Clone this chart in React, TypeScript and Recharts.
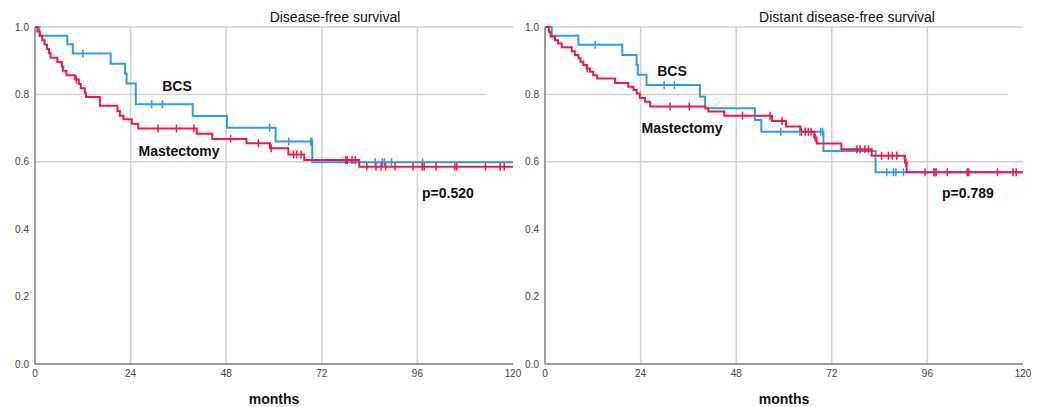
import React from 'react';
import { ComposedChart, Line, Scatter, XAxis, YAxis, CartesianGrid, ReferenceLine } from 'recharts';

// ---------- data ----------
const xTicks = [0, 24, 48, 72, 96, 120];
const yTicks = [0, 0.2, 0.4, 0.6, 0.8, 1.0];

// Left panel: Disease-free survival
const dfsBcsTimes = [0, 1.1, 8.1, 9.5, 19, 22.6, 23, 25.3, 39.6, 48.2, 60.4, 69.6, 120];
const dfsBcsSurv = [1, 0.974, 0.949, 0.921, 0.891, 0.862, 0.832, 0.771, 0.736, 0.701, 0.660, 0.599, 0.599];
const dfsBcsCensor = [12, 29.3, 32, 58.9, 63.7, 69.2, 69.5, 85.4, 87.2, 87.7, 89.5, 97.3];

const dfsMastTimes = [0, 0.6, 1.2, 1.8, 2.4, 3.0, 3.5, 3.9, 5.6, 6.7, 7.0, 7.9, 10.0, 11.0, 11.5, 12.5, 12.8, 16.3, 20.7, 21.3, 22.2, 24.3, 25.9, 40.6, 44.5, 53.1, 59.0, 63.6, 67.6, 81.4, 120];
const dfsMastSurv = [1, 0.987, 0.974, 0.961, 0.948, 0.935, 0.922, 0.909, 0.896, 0.883, 0.870, 0.857, 0.844, 0.831, 0.818, 0.805, 0.792, 0.766, 0.751, 0.737, 0.726, 0.713, 0.699, 0.683, 0.668, 0.655, 0.640, 0.622, 0.605, 0.585, 0.585];
const dfsMastCensor = [10.4, 30.9, 35.5, 39.9, 49.1, 56.1, 59.3, 64.9, 65.7, 66.8, 78.0, 78.4, 79.6, 80.4, 83.3, 85.6, 86.9, 88, 90.4, 94.9, 97.2, 97.7, 100.7, 105.4, 105.9, 113.1, 116.8, 117.8];

// Right panel: Distant disease-free survival
const ddfsBcsTimes = [0, 1.7, 8.4, 19.4, 23, 23.3, 25.5, 38.9, 40.2, 52.7, 54.3, 69.9, 83, 120];
const ddfsBcsSurv = [1, 0.974, 0.947, 0.917, 0.887, 0.858, 0.828, 0.793, 0.759, 0.724, 0.689, 0.632, 0.569, 0.569];
const ddfsBcsCensor = [12.6, 29.9, 32.5, 59.2, 64, 69.2, 69.7, 85.8, 87.5, 88.1, 90, 97.6, 98.2];

const ddfsMastTimes = [0, 1.0, 1.4, 2.5, 3.3, 4.2, 6.7, 7.5, 8.4, 8.9, 9.6, 10.5, 11.3, 12.1, 13.1, 17.6, 20.9, 22.2, 23.0, 23.8, 25.1, 26.4, 40.3, 41.0, 45.0, 57.0, 60.5, 64.1, 67.6, 68.2, 74.4, 82.0, 90.4, 90.8, 120];
const ddfsMastSurv = [1, 0.986, 0.972, 0.961, 0.951, 0.940, 0.928, 0.917, 0.907, 0.897, 0.887, 0.877, 0.867, 0.857, 0.847, 0.834, 0.823, 0.813, 0.803, 0.789, 0.778, 0.764, 0.759, 0.749, 0.737, 0.721, 0.705, 0.689, 0.672, 0.654, 0.637, 0.618, 0.597, 0.569, 0.569];
const ddfsMastCensor = [10.6, 31.4, 36.2, 49.6, 56.5, 59.5, 64.4, 65.3, 66.1, 66.8, 67.8, 78.3, 79.1, 80.3, 81.2, 84.5, 86.2, 87.2, 88.3, 90.6, 95.4, 97.7, 98.2, 101, 106, 106.4, 113.6, 117.5, 118.3];

// ---------- helpers ----------
const BLUE = '#2b9cf0';
const RED = '#f5174a';
const GRID = '#d2d2d2';
const AXIS = '#7a7a7a';
const FONT = '"Liberation Sans", Arial, sans-serif';

const toSteps = (times: number[], surv: number[]) => times.map((t, i) => ({ t, s: surv[i] }));
const survAt = (times: number[], surv: number[], t: number) => {
  let s = surv[0];
  for (let i = 0; i < times.length; i++) if (times[i] <= t) s = surv[i];
  return s;
};
const toCensor = (times: number[], surv: number[], cens: number[]) => cens.map((t) => ({ t, s: survAt(times, surv, t) }));

const makeTick = (color: string) => (props: any) => {
  const { cx, cy } = props;
  if (cx == null || cy == null) return <g />;
  return <line x1={cx} x2={cx} y1={cy - 4} y2={cy + 4} stroke={color} strokeWidth={1.5} />;
};

type PanelProps = {
  width: number;
  title: string;
  pText: string;
  bcsTimes: number[]; bcsSurv: number[]; bcsCensor: number[];
  mastTimes: number[]; mastSurv: number[]; mastCensor: number[];
  gridEnd08: number;
  titleX: number;
  bcsX: number; bcsY: number; mastX: number; mastY: number; pX: number;
};

function Panel(p: PanelProps) {
  return (
    <ComposedChart width={p.width} height={407} margin={{ top: 27, right: p.width - 513, bottom: 0, left: 0 }}>
      <CartesianGrid stroke={GRID} strokeWidth={1.5} horizontalValues={[0.6, 1.0]} verticalValues={[24, 48, 72, 96]} />
      <ReferenceLine segment={[{ x: 0, y: 0.8 }, { x: p.gridEnd08, y: 0.8 }]} stroke={GRID} strokeWidth={1.5} />
      <XAxis type="number" dataKey="t" domain={[0, 120]} ticks={xTicks} allowDataOverflow height={43}
        tickSize={0} tickMargin={6} axisLine={{ stroke: AXIS, strokeWidth: 1.5 }}
        tick={{ fontSize: 10, fill: '#444', fontFamily: FONT }}
        label={{ value: 'months', position: 'insideBottom', offset: 3, style: { fontSize: 14, fontWeight: 'bold', fill: '#111', fontFamily: FONT } }} />
      <YAxis type="number" dataKey="s" domain={[0, 1]} ticks={yTicks} width={35} tickSize={0} tickMargin={6}
        tickFormatter={(v: number) => v.toFixed(1)} axisLine={{ stroke: AXIS, strokeWidth: 1.5 }}
        tick={{ fontSize: 10, fill: '#444', fontFamily: FONT }} />
      <Line data={toSteps(p.bcsTimes, p.bcsSurv)} dataKey="s" type="stepAfter" stroke={BLUE} strokeWidth={2} dot={false} isAnimationActive={false} />
      <Line data={toSteps(p.mastTimes, p.mastSurv)} dataKey="s" type="stepAfter" stroke={RED} strokeWidth={2} dot={false} isAnimationActive={false} />
      <Scatter data={toCensor(p.bcsTimes, p.bcsSurv, p.bcsCensor)} dataKey="s" shape={makeTick(BLUE)} isAnimationActive={false} />
      <Scatter data={toCensor(p.mastTimes, p.mastSurv, p.mastCensor)} dataKey="s" shape={makeTick(RED)} isAnimationActive={false} />
      <text x={p.titleX} y={22} textAnchor="middle" fontSize={14} fill="#111" fontFamily={FONT}>{p.title}</text>
      <text x={p.bcsX} y={p.bcsY} textAnchor="middle" fontSize={14} fontWeight="bold" fill="#111" fontFamily={FONT}>BCS</text>
      <text x={p.mastX} y={p.mastY} textAnchor="middle" fontSize={14} fontWeight="bold" fill="#111" fontFamily={FONT}>Mastectomy</text>
      <text x={p.pX} y={198} textAnchor="start" fontSize={14} fontWeight="bold" fill="#111" fontFamily={FONT}>{p.pText}</text>
    </ComposedChart>
  );
}

export default function App() {
  return (
    <div style={{ position: 'absolute', left: 0, top: 0, width: 1046, height: 407, background: '#fff' }}>
      <div style={{ position: 'absolute', left: 0, top: 0 }}>
        <Panel width={525} title="Disease-free survival" pText="p=0.520"
          bcsTimes={dfsBcsTimes} bcsSurv={dfsBcsSurv} bcsCensor={dfsBcsCensor}
          mastTimes={dfsMastTimes} mastSurv={dfsMastSurv} mastCensor={dfsMastCensor}
          gridEnd08={113.2} titleX={335} bcsX={177} bcsY={91} mastX={179} mastY={156} pX={422} />
      </div>
      <div style={{ position: 'absolute', left: 510, top: 0 }}>
        <Panel width={536} title="Distant disease-free survival" pText="p=0.789"
          bcsTimes={ddfsBcsTimes} bcsSurv={ddfsBcsSurv} bcsCensor={ddfsBcsCensor}
          mastTimes={ddfsMastTimes} mastSurv={ddfsMastSurv} mastCensor={ddfsMastCensor}
          gridEnd08={116.2} titleX={337} bcsX={162} bcsY={76} mastX={172} mastY={133} pX={432} />
      </div>
    </div>
  );
}
